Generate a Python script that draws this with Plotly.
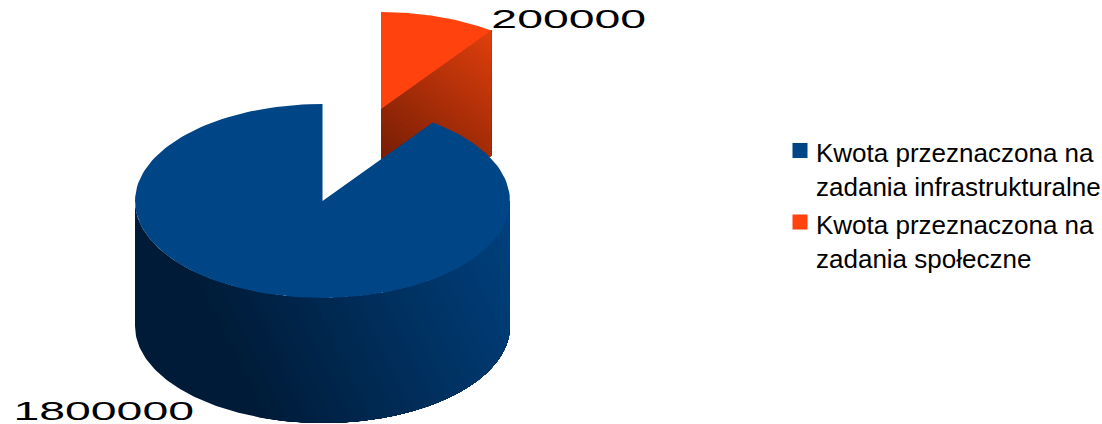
import numpy as np
import plotly.graph_objects as go

categories = ["Kwota przeznaczona na<br>zadania infrastrukturalne",
              "Kwota przeznaczona na<br>zadania społeczne"]
values = [1800000, 200000]
colors = ["#004586", "#ff420e"]

W, H = 1102, 424
CX, CY, RX, RY, DEPTH = 322.5, 201.0, 187.5, 97.0, 125.0
EXPLODE = (58.5, -92.0)

total = sum(values)
red_sweep = 2 * np.pi * values[1] / total


def pt(theta, dx=0.0, dy=0.0):
    return (CX + RX * np.sin(theta) + dx, CY - RY * np.cos(theta) + dy)


def arc(a, b, dx=0.0, dy=0.0, n=160):
    return [pt(t, dx, dy) for t in np.linspace(a, b, n)]


def clip(poly, d, c):
    """Keep the part of poly where p.d >= c."""
    out = []
    for i in range(len(poly)):
        p, q = np.array(poly[i]), np.array(poly[(i + 1) % len(poly)])
        sp, sq = p @ d - c, q @ d - c
        if sp >= 0:
            out.append(tuple(p))
        if sp * sq < 0:
            out.append(tuple(p + (q - p) * sp / (sp - sq)))
    return out


def hex2rgb(h):
    return np.array([int(h[i:i + 2], 16) for i in (1, 3, 5)], float)


def poly_trace(poly, color, **kw):
    xs = [p[0] for p in poly] + [poly[0][0]]
    ys = [p[1] for p in poly] + [poly[0][1]]
    return go.Scatter(x=xs, y=ys, mode="lines", fill="toself", fillcolor=color,
                      line=dict(width=0), hoverinfo="skip", showlegend=False, **kw)


def gradient(poly, start, stop, c0, c1, steps):
    a, b = np.array(start, float), np.array(stop, float)
    d = (b - a) / np.linalg.norm(b - a)
    t0, t1 = a @ d, b @ d
    c0, c1 = hex2rgb(c0), hex2rgb(c1)
    tr = [poly_trace(poly, "rgb(%d,%d,%d)" % tuple(c0))]
    for i in range(1, steps + 1):
        f = i / steps
        part = clip(poly, d, t0 + (t1 - t0) * f)
        if len(part) >= 3:
            c = c0 + (c1 - c0) * f
            tr.append(poly_trace(part, "rgb(%d,%d,%d)" % tuple(c)))
    return tr


fig = go.Figure()

# Exploded slice: side wall, then top face
ex, ey = EXPLODE
apex = (CX + ex, CY + ey)
end = pt(red_sweep, ex, ey)
red_side = [apex, end, (end[0], end[1] + DEPTH), (apex[0], apex[1] + DEPTH)]
for t in gradient(red_side, (381, 175), (491, 31), "#701c04", "#e2400d", 40):
    fig.add_trace(t)
fig.add_trace(poly_trace([apex] + arc(0, red_sweep, ex, ey), colors[1]))

# Main slice: side wall, then top face
front_top = arc(np.pi / 2, 3 * np.pi / 2)
front_bot = arc(3 * np.pi / 2, np.pi / 2, 0, DEPTH)
blue_side = front_top + front_bot
for t in gradient(blue_side, (215, 340), (525, 190), "#001b37", "#004586", 60):
    fig.add_trace(t)
fig.add_trace(poly_trace([(CX, CY)] + arc(red_sweep, 2 * np.pi), colors[0]))

# Legend entries
for name, col in zip(categories, colors):
    fig.add_trace(go.Scatter(x=[None], y=[None], mode="markers", name=name, legendgroup=name,
                             marker=dict(symbol="square", size=15, color=col)))

fig.add_annotation(x=568.5, y=19, text=str(values[1]), showarrow=False,
                   font=dict(family="Liberation Sans", size=25, color="#000000"))
fig.add_annotation(x=103.5, y=411, text=str(values[0]), showarrow=False,
                   font=dict(family="Liberation Sans", size=25, color="#000000"))

fig.update_layout(
    width=W, height=H, margin=dict(l=0, r=0, t=0, b=0),
    paper_bgcolor="white", plot_bgcolor="white",
    xaxis=dict(range=[0, W], visible=False, fixedrange=True),
    yaxis=dict(range=[H, 0], visible=False, fixedrange=True),
    legend=dict(x=1.0, y=0.6965, xanchor="right", yanchor="top", entrywidth=279,
                font=dict(family="Liberation Sans", size=26, color="#000000"),
                itemwidth=30, tracegroupgap=1, bgcolor="rgba(0,0,0,0)"),
)

stretch = """
document.documentElement.style.overflow = 'hidden';
document.body.style.margin = '0';
document.body.style.overflow = 'hidden';
var gd = document.getElementById('{plot_id}');
function shift(el, dx, dy) {
  if (el.dataset.moved) return;
  el.dataset.moved = '1';
  var m = /translate\\(([-\\d.]+)[ ,]*([-\\d.]*)\\)/.exec(el.getAttribute('transform') || '');
  var x = m ? parseFloat(m[1]) : 0, y = m && m[2] ? parseFloat(m[2]) : 0;
  el.setAttribute('transform', 'translate(' + (x + dx) + ',' + (y + dy) + ')');
}
function tweak() {
  gd.querySelectorAll('.annotation-text').forEach(function (el) {
    el.setAttribute('lengthAdjust', 'spacingAndGlyphs');
    el.setAttribute('textLength', String(el.textContent.length * 25.8));
  });
  gd.querySelectorAll('.legendpoints path').forEach(function (el) { shift(el, 4, -18.5); });
  gd.querySelectorAll('g.legend').forEach(function (el) { shift(el, 4, 0); });
}
tweak();
gd.on('plotly_afterplot', tweak);
"""
fig.write_html("out.html", post_script=stretch, config={"displayModeBar": False})
